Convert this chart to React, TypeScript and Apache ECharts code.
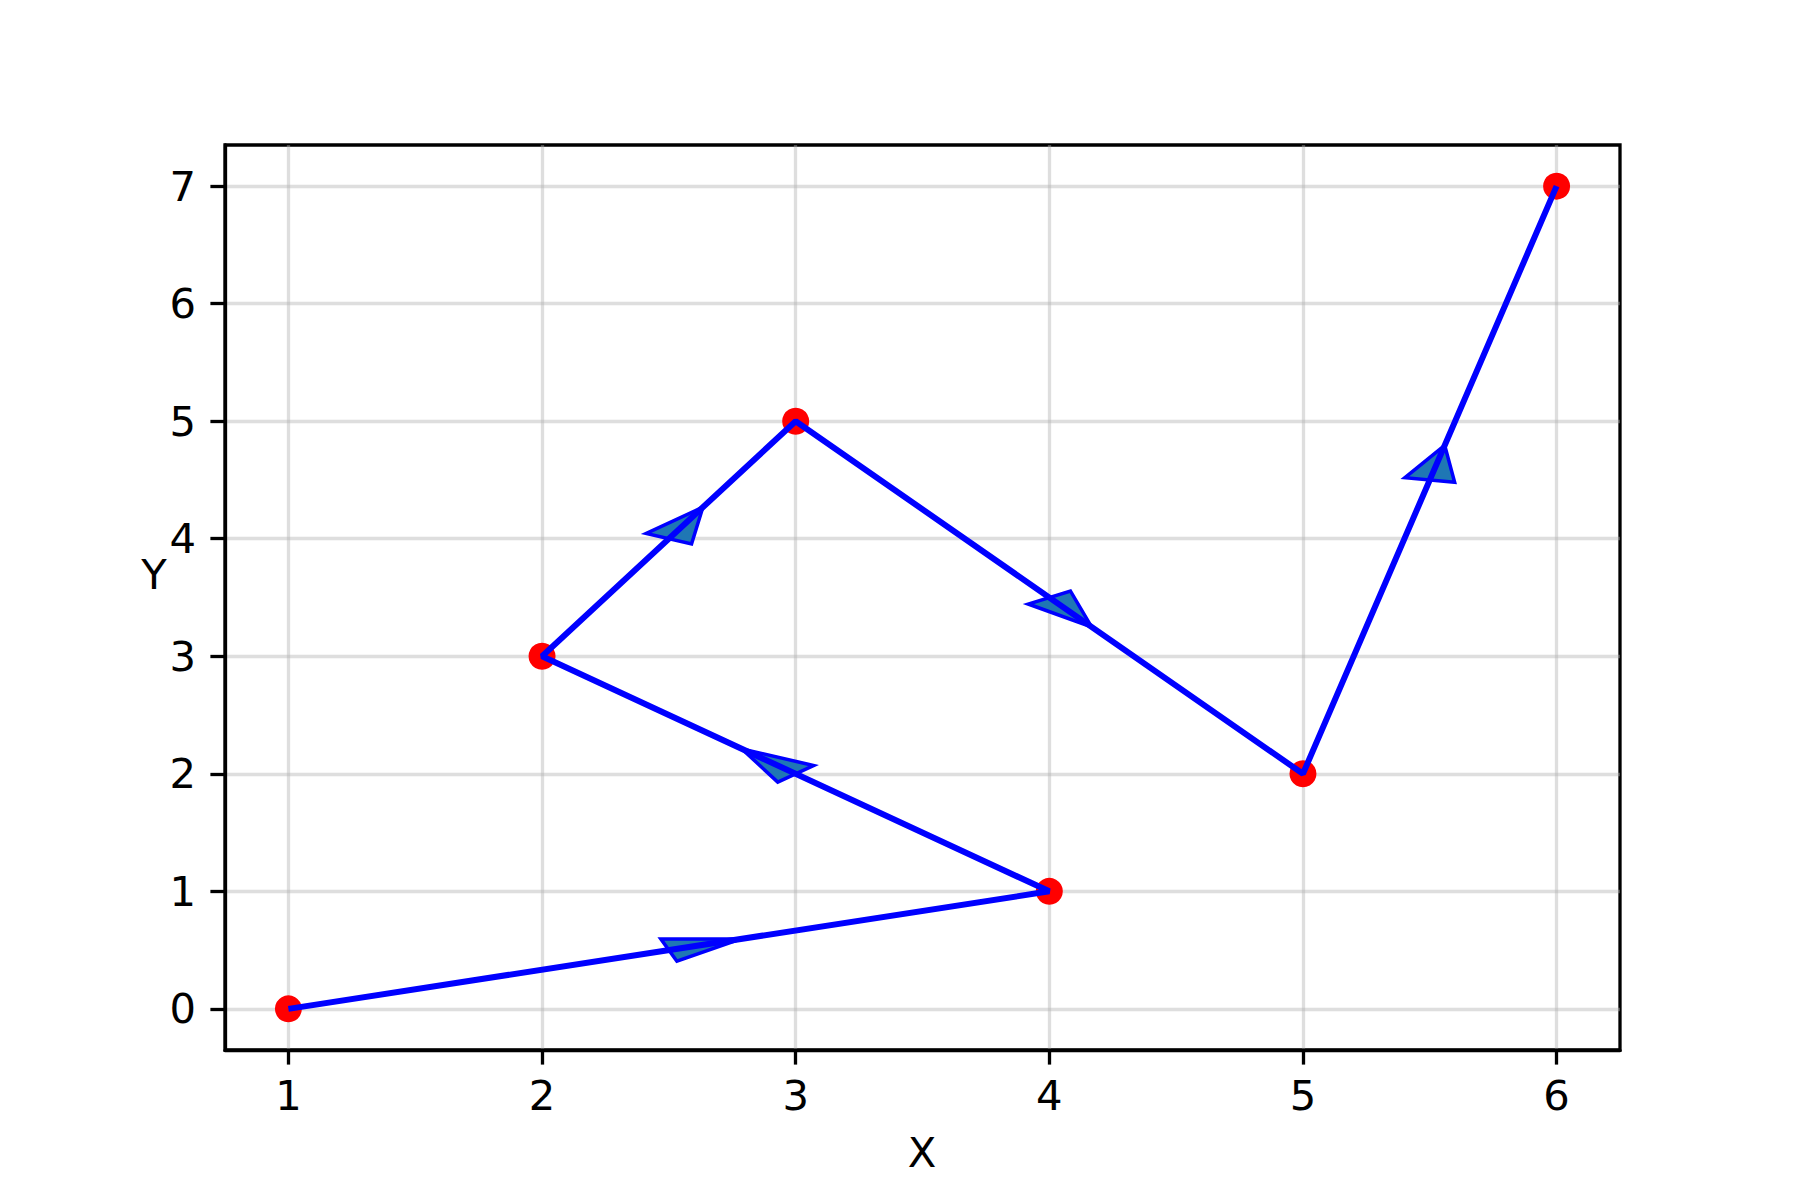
import React, { useEffect, useRef } from "react";
import * as echarts from "echarts";

const xValues = [1, 4, 2, 3, 5, 6];
const yValues = [0, 1, 3, 5, 2, 7];
const xTicks = [1, 2, 3, 4, 5, 6];
const yTicks = [0, 1, 2, 3, 4, 5, 6, 7];
const xRange = [0.75, 6.25];
const yRange = [-0.35, 7.35];
const HEAD_WIDTH = 0.2;
const HEAD_LENGTH = 0.3;

const FONT = "DejaVu Sans";
const FS = 41.7;

export default function App() {
  const ref = useRef<HTMLDivElement>(null);
  useEffect(() => {
    const chart = echarts.init(ref.current!, null, { renderer: "svg" });
    const points = xValues.map((x, i) => [x, yValues[i]]);
    const segments = points
      .slice(0, -1)
      .map((p, i) => [p[0], p[1], points[i + 1][0], points[i + 1][1]]);

    const gridLine = { show: true, lineStyle: { color: "rgba(176,176,176,0.42)", width: 3.3 } };
    const tick = (vals: number[]) => ({
      show: true,
      inside: false,
      length: 14.6,
      customValues: vals,
      lineStyle: { color: "#000", width: 3.3 },
    });
    const label = (vals: number[], margin: number) => ({
      show: true,
      customValues: vals,
      margin,
      color: "#000",
      fontSize: FS,
      fontFamily: FONT,
    });

    chart.setOption({
      animation: false,
      backgroundColor: "#fff",
      grid: {
        left: 225,
        right: 180,
        top: 145,
        bottom: 150,
        show: true,
        borderColor: "#000",
        borderWidth: 3.3,
        containLabel: false,
        outerBoundsMode: "none",
      },
      xAxis: {
        type: "value",
        min: xRange[0],
        max: xRange[1],
        axisLine: { show: true, onZero: false, lineStyle: { color: "#000", width: 3.3 } },
        axisTick: tick(xTicks),
        axisLabel: label(xTicks, 24),
        splitLine: gridLine,
      },
      yAxis: {
        type: "value",
        min: yRange[0],
        max: yRange[1],
        axisLine: { show: true, onZero: false, lineStyle: { color: "#000", width: 3.3 } },
        axisTick: tick(yTicks),
        axisLabel: label(yTicks, 29),
        splitLine: gridLine,
      },
      graphic: [
        {
          type: "text",
          x: 922,
          y: 1152,
          style: {
            text: "X",
            fontSize: FS,
            fontFamily: FONT,
            fill: "#000",
            textAlign: "center",
            textVerticalAlign: "middle",
          },
        },
        {
          type: "text",
          x: 154,
          y: 574,
          style: {
            text: "Y",
            fontSize: FS,
            fontFamily: FONT,
            fill: "#000",
            textAlign: "center",
            textVerticalAlign: "middle",
          },
        },
      ],
      series: [
        {
          type: "scatter",
          data: points,
          symbol: "circle",
          symbolSize: 27,
          itemStyle: { color: "#ff0000", opacity: 1 },
          z: 1,
        },
        {
          type: "custom",
          data: segments,
          encode: { x: [0, 2], y: [1, 3] },
          z: 2,
          renderItem: (params: any, api: any) => {
            const x0 = api.value(0);
            const y0 = api.value(1);
            const x1 = api.value(2);
            const y1 = api.value(3);
            const dx = x1 - x0;
            const dy = y1 - y0;
            const len = Math.hypot(dx, dy);
            const ux = dx / len;
            const uy = dy / len;
            const mx = (x0 + x1) / 2;
            const my = (y0 + y1) / 2;
            const tip = [mx + ux * HEAD_LENGTH, my + uy * HEAD_LENGTH];
            const l = [mx - (uy * HEAD_WIDTH) / 2, my + (ux * HEAD_WIDTH) / 2];
            const r = [mx + (uy * HEAD_WIDTH) / 2, my - (ux * HEAD_WIDTH) / 2];
            return {
              type: "polygon",
              shape: { points: [api.coord(tip), api.coord(l), api.coord(r)] },
              style: { fill: "#1f77b4", stroke: "#0000ff", lineWidth: 3.5, lineJoin: "miter" },
            };
          },
        },
        {
          type: "line",
          data: points,
          showSymbol: false,
          symbol: "none",
          lineStyle: { color: "#0000ff", width: 6 },
          z: 3,
        },
      ],
    });
    return () => chart.dispose();
  }, []);
  return (
    <div
      ref={ref}
      style={{ position: "fixed", left: 0, top: 0, width: 1800, height: 1200, background: "#fff" }}
    />
  );
}
